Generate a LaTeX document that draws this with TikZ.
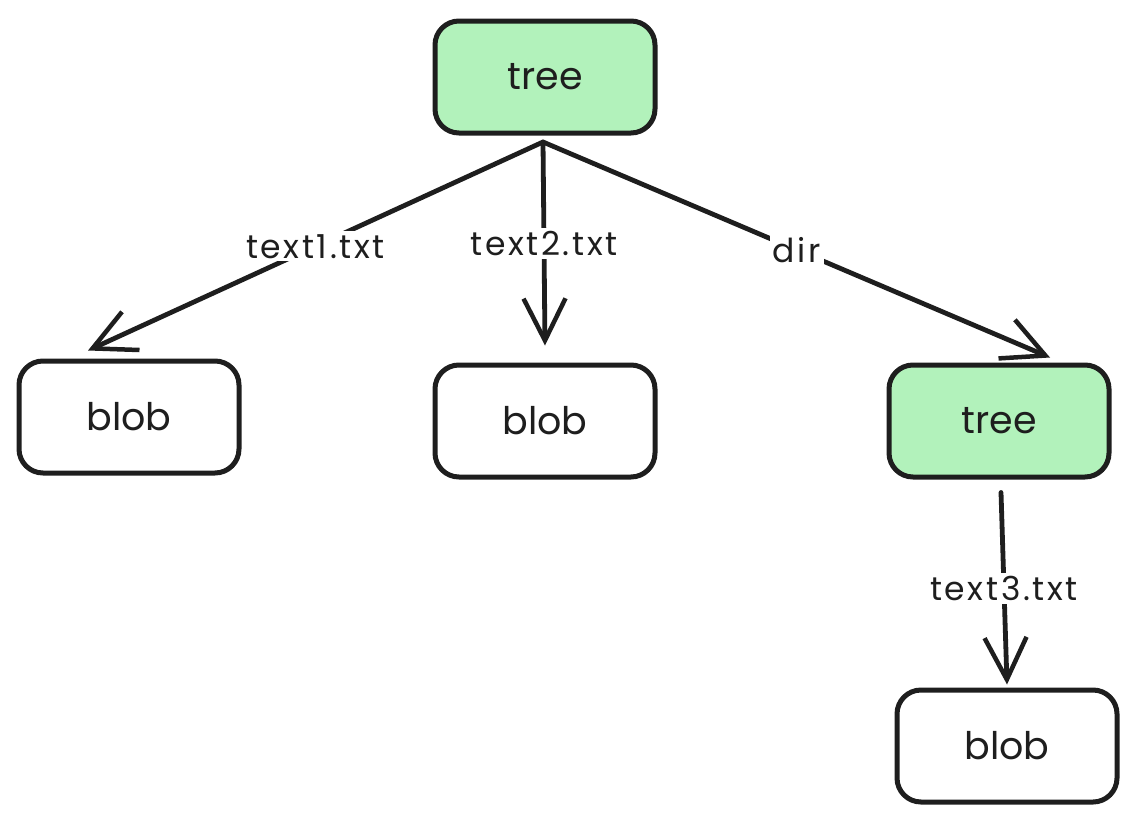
\documentclass[tikz,border=0pt]{standalone}
\usepackage{fontspec}
\setmainfont{Poppins}
\newfontfamily\lblfont{Poppins}[LetterSpace=8]
\newfontfamily\boxfont{Poppins}
\usetikzlibrary{arrows.meta}
\definecolor{treegreen}{HTML}{B2F2BB}
\definecolor{ink}{HTML}{1E1E1E}
\begin{document}
\begin{tikzpicture}[x=1pt,y=-1pt,
  box/.style={draw=ink, line width=5pt, rounded corners=24pt, minimum width=220pt,
    minimum height=112pt, font=\boxfont\fontsize{38}{42}\selectfont, text=ink},
  treebox/.style={box, fill=treegreen},
  blobbox/.style={box, fill=white},
  link/.style={draw=ink, line width=4.8pt, line cap=round,
    -{Straight Barb[length=42pt,width=42pt,line width=4.5pt]}},
  lbl/.style={fill=white, inner sep=3pt, font=\lblfont\fontsize{33}{36}\selectfont, text=ink}]
\useasboundingbox (0,0) rectangle (1137,825);
% tree objects and the blobs they point to
\node[treebox] (root) at (545,77) {tree};
\node[blobbox] (b1) at (129,417) {blob};
\node[blobbox] (b2) at (545,421) {blob};
\node[treebox] (sub) at (999,421) {tree};
\node[blobbox] (b3) at (1007,746) {blob};
\coordinate (top) at (543,142);
% named entries
\draw[link] (top) -- node[lbl, pos=0.5] {text1.txt} ([xshift=-41pt,yshift=8pt]b1.north);
\draw[link] (top) -- node[lbl, pos=0.5] {text2.txt} ([yshift=17pt]b2.north);
\draw[link] (top) -- node[lbl, pos=0.5] {dir} ([xshift=51pt,yshift=5pt]sub.north);
\draw[link] ([xshift=2pt,yshift=-13pt]sub.south) -- node[lbl, pos=0.5] {text3.txt} ([yshift=3pt]b3.north);
\end{tikzpicture}
\end{document}
